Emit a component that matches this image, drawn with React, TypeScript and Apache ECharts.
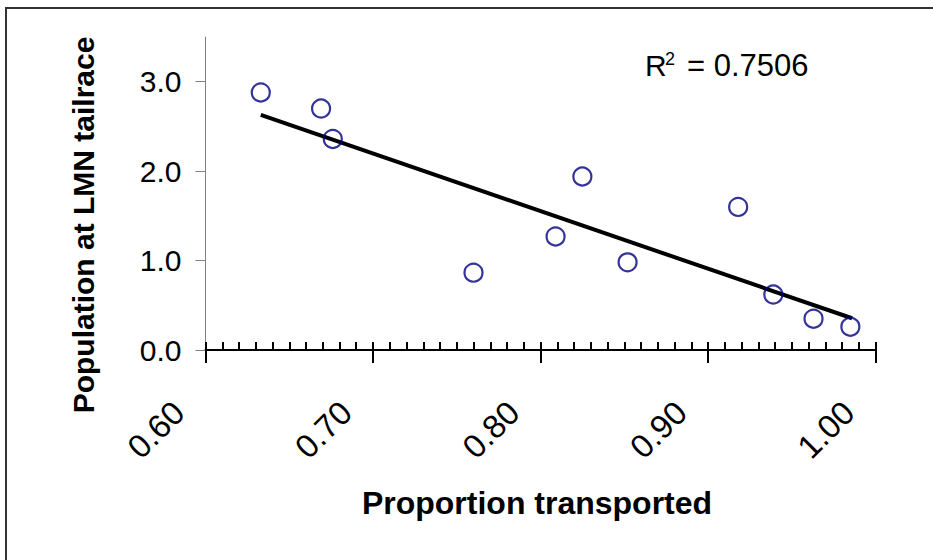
import React, { useEffect, useRef } from "react";
import * as echarts from "echarts";

// Data
const proportionTransported = [0.633, 0.669, 0.676, 0.760, 0.809, 0.825, 0.852, 0.918, 0.939, 0.963, 0.985];
const populationTailrace = [2.88, 2.70, 2.36, 0.865, 1.27, 1.94, 0.98, 1.60, 0.62, 0.35, 0.26];
const trendX = [0.633, 0.986];
const trendY = [2.63, 0.355];
const yTickValues = [0, 1, 2, 3];
const rSquaredText = "= 0.7506";
const xTitle = "Proportion transported";
const yTitle = "Population at LMN tailrace";

const FONT = "'Liberation Sans', Arial, sans-serif";

export default function App() {
  const ref = useRef<HTMLDivElement>(null);
  useEffect(() => {
    document.body.style.margin = "0";
    if (!ref.current) return;
    const chart = echarts.init(ref.current, null, { renderer: "svg" });
    const scatterData = proportionTransported.map((x, i) => [x, populationTailrace[i]]);
    const trendData = trendX.map((x, i) => [x, trendY[i]]);
    chart.setOption({
      animation: false,
      backgroundColor: "#ffffff",
      grid: { left: 205.5, top: 37, right: 57.5, bottom: 210, containLabel: false },
      xAxis: [
        {
          type: "value",
          position: "bottom",
          min: 0.6,
          max: 1.0,
          interval: 0.1,
          axisLine: { show: true, onZero: false, lineStyle: { color: "#000", width: 2 } },
          axisTick: { show: true, inside: false, length: 13, lineStyle: { color: "#000", width: 2 } },
          splitLine: { show: false },
          axisLabel: {
            show: true,
            rotate: 45,
            margin: 30,
            padding: [0, 38, 0, 0],
            fontSize: 33,
            fontFamily: FONT,
            color: "#000",
            formatter: (v: number) => v.toFixed(2),
          },
        },
        {
          type: "value",
          position: "bottom",
          min: 0.6,
          max: 1.0,
          interval: 0.01,
          axisLine: { show: false, onZero: false },
          axisTick: { show: true, inside: true, length: 8, lineStyle: { color: "#000", width: 2 } },
          splitLine: { show: false },
          axisLabel: { show: false },
        },
      ],
      yAxis: {
        type: "value",
        min: 0,
        max: 3.5,
        interval: 1,
        axisLine: { show: true, onZero: false, lineStyle: { color: "#808080", width: 1 } },
        axisTick: { show: true, inside: false, length: 10, customValues: yTickValues, lineStyle: { color: "#808080", width: 1 } },
        splitLine: { show: false },
        axisLabel: {
          show: true,
          margin: 24,
          fontSize: 30,
          fontFamily: FONT,
          color: "#000",
          customValues: yTickValues,
          formatter: (v: number) => v.toFixed(1),
        },
      },
      series: [
        {
          type: "line",
          data: trendData,
          xAxisIndex: 0,
          symbol: "none",
          lineStyle: { color: "#000", width: 4 },
          z: 2,
        },
        {
          type: "scatter",
          data: scatterData,
          xAxisIndex: 0,
          symbol: "circle",
          symbolSize: 18,
          itemStyle: { color: "rgba(255,255,255,0)", borderColor: "#000080", borderWidth: 2.2 },
          z: 3,
        },
      ],
      graphic: [
        {
          type: "rect",
          shape: { x: 6, y: 8, width: 1000, height: 1000 },
          style: { fill: "none", stroke: "#333", lineWidth: 2 },
          silent: true,
        },
        {
          type: "text",
          x: 537,
          y: 503,
          style: { text: xTitle, font: `bold 32px ${FONT}`, fill: "#000", align: "center", verticalAlign: "middle" },
        },
        {
          type: "text",
          x: 83,
          y: 225,
          rotation: Math.PI / 2,
          style: { text: yTitle, font: `bold 30px ${FONT}`, fill: "#000", align: "center", verticalAlign: "middle" },
        },
        {
          type: "text",
          x: 645,
          y: 65.5,
          style: { text: "R", font: `30px ${FONT}`, fill: "#000", align: "left", verticalAlign: "middle" },
        },
        {
          type: "text",
          x: 665,
          y: 59,
          style: { text: "2", font: `18px ${FONT}`, fill: "#000", align: "left", verticalAlign: "middle" },
        },
        {
          type: "text",
          x: 687,
          y: 65.5,
          style: { text: rSquaredText, font: `31px ${FONT}`, fill: "#000", align: "left", verticalAlign: "middle" },
        },
      ],
    });
    return () => chart.dispose();
  }, []);
  return <div ref={ref} style={{ width: 933, height: 560 }} />;
}
